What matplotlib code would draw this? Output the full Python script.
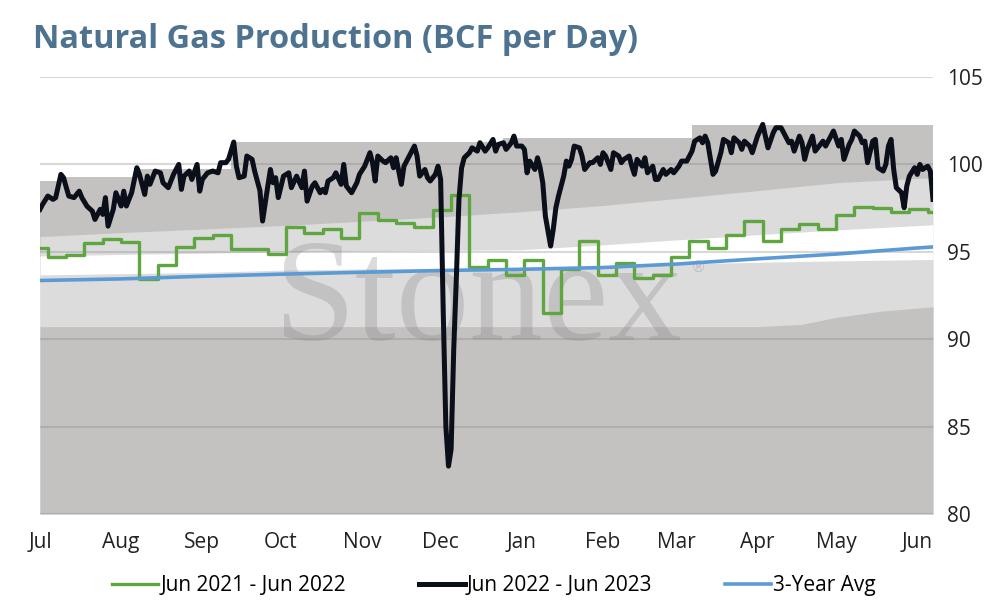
import numpy as np
import pandas as pd
import matplotlib
matplotlib.use('Agg')
import matplotlib.pyplot as plt

plt.rcParams['font.family'] = ['Open Sans', 'DejaVu Sans']

# season axis starts Jul 1 2022
start = np.datetime64('2022-07-01')
end = np.datetime64('2023-06-07')
months = ['Jul', 'Aug', 'Sep', 'Oct', 'Nov', 'Dec', 'Jan', 'Feb', 'Mar', 'Apr', 'May', 'Jun']

# Jun 2022 - Jun 2023 (daily, days after Jul 1)
black_day = [0, 1, 3, 5, 6, 8, 9, 11, 13, 15, 16, 18, 20, 21, 23, 24, 25, 26, 28, 29,
             31, 32, 33, 35, 37, 38, 40, 41, 42, 44, 46, 47, 49, 51, 53, 54, 55, 57, 58, 60,
             61, 62, 64, 66, 68, 69, 71, 72, 74, 75, 76, 78, 79, 81, 82, 84, 85, 87, 88, 89,
             90, 91, 93, 95, 96, 98, 100, 101, 102, 104, 105, 107, 108, 109, 110, 112, 113, 115, 116, 117,
             119, 121, 122, 124, 126, 127, 128, 129, 131, 132, 134, 135, 136, 138, 139, 140, 142, 143, 144, 145,
             147, 148, 149, 151, 152, 153, 154, 155, 156, 157, 158, 159, 160, 161, 162, 164, 165, 167, 168, 170,
             171, 173, 174, 175, 177, 178, 180, 181, 182, 184, 185, 186, 187, 189, 190, 191, 192, 193, 195, 196,
             197, 198, 200, 201, 202, 203, 204, 206, 207, 208, 210, 211, 213, 214, 215, 216, 218, 219, 221, 222,
             223, 225, 226, 227, 228, 230, 231, 232, 234, 235, 236, 238, 239, 241, 242, 244, 245, 247, 248, 249,
             250, 252, 253, 254, 255, 257, 258, 260, 261, 263, 264, 265, 267, 268, 269, 271, 272, 274, 276, 277,
             278, 280, 281, 283, 284, 286, 287, 288, 290, 291, 292, 293, 295, 296, 297, 299, 300, 301, 302, 303,
             305, 306, 307, 309, 310, 311, 313, 314, 315, 316, 318, 319, 320, 322, 323, 324, 325, 326, 327, 329,
             330, 331, 332, 334, 335, 336, 337, 339, 340, 341]
black_val = [97.43, 97.71, 98.19, 98.0, 98.1, 99.43, 99.24, 98.19, 98.1, 98.47, 98.1, 97.6, 97.33, 96.85, 97.43, 97.14, 98.1, 96.47, 97.43, 98.38,
             97.62, 98.47, 97.62, 98.38, 99.81, 99.43, 98.28, 99.33, 98.86, 99.62, 99.52, 98.95, 98.67, 99.43, 100.0, 98.57, 99.33, 99.62, 99.14, 100.0,
             98.47, 99.14, 99.52, 99.62, 99.52, 100.1, 100.1, 100.29, 101.28, 99.9, 99.24, 99.33, 100.48, 100.29, 99.6, 98.5, 96.76, 98.76, 99.71, 98.95,
             99.24, 98.1, 99.33, 99.52, 98.67, 99.33, 98.67, 99.62, 97.9, 98.76, 98.95, 98.38, 98.57, 98.38, 99.05, 99.24, 99.52, 98.86, 100.0, 98.76,
             98.38, 98.95, 99.43, 99.9, 100.67, 100.1, 99.05, 100.48, 100.19, 100.1, 100.38, 99.81, 100.38, 98.86, 99.9, 100.19, 100.76, 101.05, 100.48, 99.33,
             99.71, 99.24, 99.05, 99.43, 99.9, 99.14, 91.5, 85.0, 82.74, 83.7, 89.42, 93.5, 98.0, 99.8, 100.38, 100.67, 100.95, 100.76, 101.24, 100.76,
             100.95, 101.43, 100.76, 101.14, 101.24, 100.86, 101.24, 101.62, 101.05, 101.05, 100.86, 99.52, 100.19, 99.71, 100.38, 99.81, 98.95, 97.04, 95.33, 96.28,
             97.52, 98.19, 99.33, 100.19, 99.9, 100.29, 101.05, 100.95, 100.48, 99.71, 100.1, 100.1, 100.38, 100.0, 100.67, 100.48, 99.71, 100.67, 100.48, 100.1,
             100.29, 100.48, 99.9, 99.43, 100.29, 99.9, 100.38, 99.52, 99.9, 99.14, 99.14, 99.71, 99.43, 99.71, 99.52, 99.9, 100.19, 100.19, 100.48, 100.76,
             101.33, 101.52, 101.24, 101.62, 101.24, 99.43, 99.62, 100.67, 101.43, 101.24, 100.67, 101.52, 101.24, 100.86, 101.33, 101.05, 100.67, 101.62, 102.29, 101.62,
             100.95, 101.81, 102.1, 102.1, 101.81, 101.24, 101.33, 100.76, 101.62, 101.24, 100.29, 100.86, 101.62, 100.76, 100.95, 101.33, 101.05, 101.33, 101.62, 101.91,
             101.05, 101.43, 100.29, 101.14, 101.43, 101.91, 101.62, 101.24, 101.33, 100.1, 101.33, 101.43, 99.81, 99.62, 100.0, 101.05, 101.43, 99.71, 98.67, 98.38,
             97.52, 98.76, 99.33, 99.81, 99.43, 100.0, 99.71, 99.9, 99.62, 98.0]

# Jun 2021 - Jun 2022 (weekly values, first is Jul 1 then weeks from Jul 4)
green_val = [95.23, 94.72, 94.8, 95.52, 95.71, 95.56, 93.46, 94.22, 95.27, 95.8,
             95.99, 95.18, 95.18, 94.85, 96.43, 96.09, 96.32, 95.77, 97.24, 96.8,
             96.66, 96.43, 97.39, 98.25, 94.12, 94.56, 93.7, 94.53, 91.52, 94.03,
             95.61, 93.7, 94.34, 93.52, 93.7, 94.72, 95.61, 95.23, 95.99, 96.76,
             95.61, 96.32, 96.6, 96.32, 97.08, 97.58, 97.5, 97.27, 97.46, 97.27]

# 3-year average, at month starts + last day
avg_day = [0, 31, 62, 92, 123, 153, 184, 215, 243, 274, 304, 335, 341]
avg_val = [93.36, 93.45, 93.6, 93.72, 93.83, 93.93, 94.0, 94.1, 94.3, 94.6, 94.87, 95.22, 95.28]

# range bands (5-yr envelope), boundaries from top to bottom
top_day = [0, 8, 8, 38, 38, 73, 73, 177, 177, 249, 249, 341]
top_val = [99.04, 99.04, 99.3, 99.3, 99.71, 99.71, 101.28, 101.28, 101.52, 101.52, 102.23, 102.23]
upper_val = [95.87, 96.1, 96.3, 96.5, 96.75, 97.0, 97.3, 97.65, 98.05, 98.5, 98.95, 99.2, 99.24]
mid_val = [94.76, 94.85, 94.92, 95.0, 95.04, 95.08, 95.12, 95.4, 95.68, 95.98, 96.25, 96.5, 96.55]
lower_val = [93.68, 93.75, 93.82, 93.95, 94.02, 94.05, 94.08, 94.15, 94.3, 94.4, 94.48, 94.55, 94.56]
bottom_day = [0, 274, 291, 304, 321, 335, 341]
bottom_val = [90.72, 90.72, 90.85, 91.25, 91.6, 91.78, 91.85]


def to_dates(days):
    return start + np.array(days).astype('timedelta64[D]')


dark = '#c4c2c1'
light = '#dcdcdc'

fig = plt.figure(figsize=(9.94, 6.06), dpi=100)
ax = fig.add_axes([0.0402, 0.1518, 0.8984, 0.7211])

ax.fill_between(to_dates(top_day), 80, top_val, color=dark, lw=0, zorder=0.2)
ax.fill_between(to_dates(avg_day), 80, upper_val, color=light, lw=0, zorder=0.3)
ax.fill_between(to_dates(avg_day), 80, mid_val, color='white', lw=0, zorder=0.4)
ax.fill_between(to_dates(avg_day), 80, lower_val, color=light, lw=0, zorder=0.5)
ax.fill_between(to_dates(bottom_day), 80, bottom_val, color=dark, lw=0, zorder=0.6)

for v in range(80, 106, 5):
    ax.axhline(v, color='#808080', alpha=0.3, lw=1.5, zorder=1)

# watermark
ax.text(0.49, 0.48, 'Stonex', transform=ax.transAxes, ha='center', va='center',
        fontsize=106, family='Liberation Serif', color='#808080', alpha=0.28, zorder=1.5)
ax.text(0.737, 0.565, '®', transform=ax.transAxes, ha='center', va='center',
        fontsize=11, family='DejaVu Sans', color='#808080', alpha=0.3, zorder=1.5)

green_dates = np.concatenate([[start], pd.date_range('2022-07-04', periods=len(green_val) - 1, freq='7D').values.astype('datetime64[D]')])
ax.plot(np.append(green_dates, end), green_val + green_val[-1:], drawstyle='steps-post',
        color='#5fa641', lw=2.4, label='Jun 2021 - Jun 2022', zorder=3)
ax.plot(to_dates(black_day), black_val, color='#0a0f1a', lw=3.6,
        label='Jun 2022 - Jun 2023', zorder=4, solid_joinstyle='round')
ax.plot(to_dates(avg_day), avg_val, color='#5b9bd5', lw=2.6, label='3-Year Avg', zorder=3.5)

ax.set_xlim(start, end)
ax.set_ylim(80, 105)
ax.set_xticks(pd.date_range('2022-07-01', periods=12, freq='MS'))
ax.set_xticklabels(months)
ax.set_yticks(range(80, 106, 5))
ax.yaxis.tick_right()
ax.tick_params(axis='y', length=0, pad=10, labelsize=15, labelcolor='#222222')
ax.tick_params(axis='x', length=0, pad=13, labelsize=15, labelcolor='#222222')
for s in ax.spines.values():
    s.set_visible(False)

fig.text(0.033, 0.935, 'Natural Gas Production (BCF per Day)', fontsize=23.4,
         fontweight='bold', color='#4d7390', va='center', ha='left')

fig.legend(loc='center', bbox_to_anchor=(0.497, 0.034), ncol=3, frameon=False,
           fontsize=15, handlelength=2.2, handletextpad=0.1, columnspacing=3.5)

fig.savefig('out.png', dpi=100)
